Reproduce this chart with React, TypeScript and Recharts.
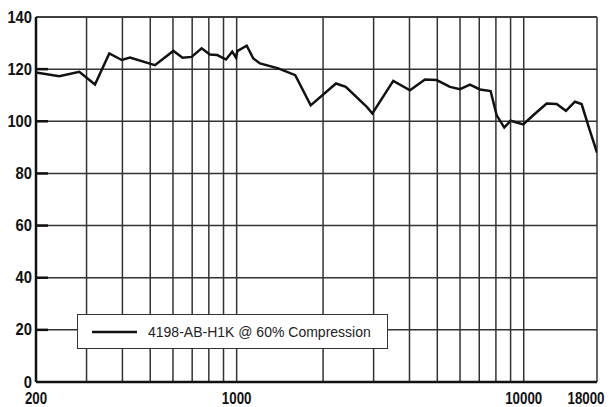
import React from "react";
import { LineChart, Line, XAxis, YAxis, CartesianGrid, ReferenceLine, Legend } from "recharts";

const frequencies = [
  200, 241, 283, 321, 360, 398, 425, 519, 602, 648, 697, 755, 807, 856, 918, 965, 995, 1005,
  1084, 1143, 1206, 1396, 1600, 1811, 2218, 2400, 2840, 2970, 3512, 4016, 4529, 4973, 5534,
  6000, 6496, 7040, 7668, 8048, 8556, 9004, 9962, 10794, 12018, 13022, 14030, 15082, 15910,
  16914, 18000,
];
const levels = [
  118.7, 117.3, 119.0, 114.1, 126.0, 123.5, 124.4, 121.5, 127.0, 124.4, 124.7, 128.0, 125.6,
  125.4, 123.7, 126.7, 124.4, 126.9, 129.0, 124.1, 122.2, 120.3, 117.7, 106.1, 114.5, 113.2,
  105.5, 103.0, 115.5, 111.9, 116.0, 115.8, 113.2, 112.3, 114.1, 112.2, 111.6, 102.3, 97.6,
  100.2, 98.8, 102.3, 106.8, 106.6, 104.0, 107.5, 106.6, 97.2, 88.0,
];
const xTickLabels = [200, 1000, 10000, 18000];
const yTickLabels = [0, 20, 40, 60, 80, 100, 120, 140];
const verticalGrid = [300, 400, 500, 600, 700, 800, 900, 1000, 2000, 3000, 4000, 5000, 6000, 7000, 8000, 9000, 10000, 18000];
const seriesName = "4198-AB-H1K @ 60% Compression";

const data = frequencies.map((f, i) => ({ freq: f, level: levels[i] }));

const FONT = "'Liberation Sans', Arial, Helvetica, sans-serif";

const XTick = (props: any) => {
  const { x, y, payload } = props;
  const label = String(payload.value);
  const w = label.length * 7.4;
  const shift = payload.value === 18000 ? -11 : 0;
  return (
    <text
      x={x + shift - w / 2}
      y={y}
      dy={22}
      textAnchor="start"
      textLength={w}
      lengthAdjust="spacingAndGlyphs"
      fontFamily={FONT}
      fontWeight="bold"
      fontSize={17}
      fill="#111"
    >
      {label}
    </text>
  );
};

const YTick = (props: any) => {
  const { x, y, payload } = props;
  const label = String(payload.value);
  const w = label.length * 8.2;
  return (
    <g>
      <text
        x={x - w}
        y={y}
        dy={5.5}
        textAnchor="start"
        textLength={w}
        lengthAdjust="spacingAndGlyphs"
        fontFamily={FONT}
        fontWeight="bold"
        fontSize={16}
        fill="#111"
      >
        {label}
      </text>
      {payload.value !== 0 && payload.value !== 140 ? (
        <line x1={x + 4} x2={x + 16} y1={y} y2={y} stroke="#111" strokeWidth={2.5} />
      ) : null}
    </g>
  );
};

const LegendBox = () => (
  <div
    style={{
      width: 309,
      height: 33,
      border: "1.5px solid #333",
      background: "#fff",
      display: "flex",
      alignItems: "center",
      boxSizing: "content-box",
    }}
  >
    <svg width={60} height={20} style={{ display: "block" }}>
      <line x1={14} x2={59} y1={10} y2={10} stroke="#111" strokeWidth={2.5} />
    </svg>
    <span style={{ fontFamily: FONT, fontSize: 14, color: "#222", marginLeft: 10, whiteSpace: "nowrap" }}>{seriesName}</span>
  </div>
);

export default function App() {
  return (
    <div style={{ width: 615, height: 407, margin: "-8px 0 0 -8px" }}>
      <style>{"svg.recharts-surface{overflow:visible}"}</style>
      <LineChart
        width={615}
        height={407}
        data={data}
        margin={{ top: 17, right: 18, left: 0, bottom: 0 }}
      >
        <CartesianGrid vertical={false} stroke="#333" strokeWidth={1.5} strokeOpacity={1} />
        {verticalGrid.map((f) => (
          <ReferenceLine key={f} x={f} stroke="#333" strokeWidth={1.5} ifOverflow="extendDomain" />
        ))}
        <ReferenceLine y={140} stroke="#333" strokeWidth={1.5} />
        <XAxis
          dataKey="freq"
          type="number"
          scale="log"
          domain={[200, 18000]}
          ticks={xTickLabels}
          allowDataOverflow
          height={25}
          tickSize={0}
          tickMargin={0}
          tick={<XTick />}
          axisLine={{ stroke: "#111", strokeWidth: 2.5 }}
          tickLine={false}
          interval={0}
        />
        <YAxis
          type="number"
          domain={[0, 140]}
          ticks={yTickLabels}
          width={36}
          tickSize={4}
          tickMargin={0}
          tick={<YTick />}
          axisLine={{ stroke: "#111", strokeWidth: 2.5 }}
          tickLine={false}
          interval={0}
        />
        <Legend
          layout="vertical"
          align="center"
          verticalAlign="middle"
          content={<LegendBox />}
          wrapperStyle={{ position: "absolute", left: 77, top: 314, width: 312, height: 36, margin: 0 }}
        />
        <Line
          dataKey="level"
          name={seriesName}
          type="linear"
          stroke="#111"
          strokeWidth={2.5}
          dot={false}
          isAnimationActive={false}
        />
      </LineChart>
    </div>
  );
}
